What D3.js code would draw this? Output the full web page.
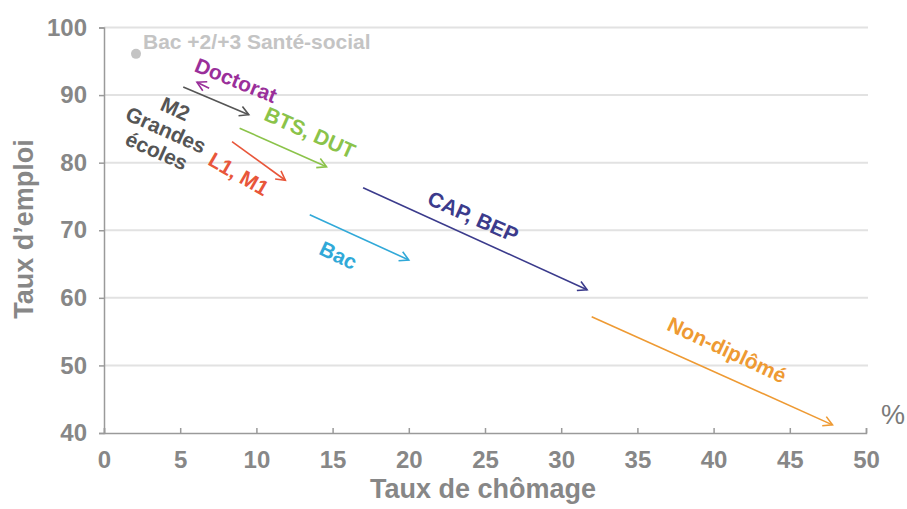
<!DOCTYPE html>
<meta charset="utf-8">
<script src="https://d3js.org/d3.v7.js"></script>
<style>
  body { margin: 0; background: #fff; }
  text { font-family: "Liberation Sans", Arial, sans-serif; font-weight: bold; }
</style>
<body>
<div id="my_dataviz"></div>
<script>
    const width = 907,
        height = 509;

    // diplomas: unemployment rate (x) and employment rate (y), arrow from start to end
    const groups = ['Doctorat', 'M2 Grandes écoles', 'BTS, DUT', 'L1, M1', 'Bac', 'CAP, BEP', 'Non-diplômé'];
    const chomageStart = [6.9, 5.2, 8.9, 8.4, 13.5, 17.0, 32.0];
    const chomageEnd   = [6.1, 9.5, 14.6, 11.9, 20.0, 31.7, 47.8];
    const emploiStart  = [91.0, 91.2, 85.1, 83.1, 72.3, 76.3, 57.2];
    const emploiEnd    = [91.9, 87.1, 79.4, 77.4, 65.6, 61.2, 41.2];
    const colors = ['#9a2f9a', '#555555', '#8bc34a', '#e8563a', '#31a9d8', '#3b3b8c', '#ee9a33'];

    // single point
    const pointLabel = 'Bac +2/+3 Santé-social';
    const pointChomage = 2.1;
    const pointEmploi = 96.1;

    const xTicks = [0, 5, 10, 15, 20, 25, 30, 35, 40, 45, 50];
    const yTicks = [40, 50, 60, 70, 80, 90, 100];

    // label placement relative to arrow middle (pixels) and rotation
    const labelLayout = [
      {dx: 33, dy: -5, rot: 22},
      {dx: -50, dy: 29, rot: 24},
      {dx: 27, dy: -15, rot: 24},
      {dx: -20, dy: 13, rot: 30},
      {dx: -21, dy: 18, rot: 25},
      {dx: -2, dy: -22, rot: 24},
      {dx: 15, dy: -21, rot: 25}
    ];

    const x = d3.scaleLinear().domain([0, 50]).range([104, 866]);
    const y = d3.scaleLinear().domain([40, 100]).range([433, 27.5]);

    const svg = d3.select('#my_dataviz')
      .append('svg')
        .attr('width', width)
        .attr('height', height);

    const axisGrey = '#878787';

    // gridlines
    svg.append('g')
      .selectAll('line')
      .data(yTicks.filter(d => d > 40))
      .join('line')
        .attr('x1', x(0)).attr('x2', x(50) + 2)
        .attr('y1', d => y(d)).attr('y2', d => y(d))
        .attr('stroke', '#e2e2e2')
        .attr('stroke-width', 2);

    // y axis
    const yAxis = svg.append('g')
      .attr('transform', `translate(${x(0)},0)`)
      .call(d3.axisLeft(y).tickValues(yTicks).tickSize(5).tickPadding(12));
    // x axis
    const xAxis = svg.append('g')
      .attr('transform', `translate(0,${y(40)})`)
      .call(d3.axisBottom(x).tickValues(xTicks).tickSize(-5).tickPadding(18));

    [xAxis, yAxis].forEach(function(a){
      a.select('.domain').attr('stroke', '#9a9a9a').attr('stroke-width', 1.5);
      a.selectAll('.tick line').attr('stroke', '#9a9a9a').attr('stroke-width', 1.5);
      a.selectAll('.tick text')
        .attr('fill', axisGrey)
        .style('font-size', '24px')
        .style('font-family', '"Liberation Sans", Arial, sans-serif')
        .style('font-weight', 'bold');
    });
    xAxis.selectAll('.tick text').attr('dy', '0.71em');

    // axis titles
    svg.append('text')
      .attr('x', 483).attr('y', 498)
      .attr('text-anchor', 'middle')
      .attr('fill', axisGrey)
      .style('font-size', '27px')
      .text('Taux de chômage');
    svg.append('text')
      .attr('transform', 'translate(33,229) rotate(-90)')
      .attr('text-anchor', 'middle')
      .attr('fill', axisGrey)
      .style('font-size', '27px')
      .text('Taux d’emploi');
    svg.append('text')
      .attr('x', 893).attr('y', 424)
      .attr('text-anchor', 'middle')
      .attr('fill', '#7a7a7a')
      .style('font-size', '27px')
      .style('font-weight', 'normal')
      .text('%');

    // arrow markers, one per colour
    const defs = svg.append('defs');
    colors.forEach(function(c, i){
      defs.append('marker')
        .attr('id', 'arrow' + i)
        .attr('viewBox', '-10 -6 12 12')
        .attr('refX', 0).attr('refY', 0)
        .attr('markerWidth', 12).attr('markerHeight', 12)
        .attr('markerUnits', 'userSpaceOnUse')
        .attr('orient', 'auto')
        .append('path')
          .attr('d', 'M-9,-5 L0,0 L-9,5')
          .attr('fill', 'none')
          .attr('stroke', c)
          .attr('stroke-width', 1.6);
    });

    const data = groups.map(function(g, i){
      return {name: g, x0: chomageStart[i], x1: chomageEnd[i], y0: emploiStart[i], y1: emploiEnd[i], color: colors[i], lay: labelLayout[i], i: i};
    });

    svg.append('g')
      .selectAll('line')
      .data(data)
      .join('line')
        .attr('x1', d => x(d.x0)).attr('y1', d => y(d.y0))
        .attr('x2', d => x(d.x1)).attr('y2', d => y(d.y1))
        .attr('stroke', d => d.color)
        .attr('stroke-width', 1.6)
        .attr('marker-end', d => `url(#arrow${d.i})`);

    // labels
    const labels = svg.append('g')
      .selectAll('g')
      .data(data)
      .join('g')
        .attr('transform', function(d){
          const mx = (x(d.x0) + x(d.x1)) / 2 + d.lay.dx;
          const my = (y(d.y0) + y(d.y1)) / 2 + d.lay.dy;
          return `translate(${mx},${my}) rotate(${d.lay.rot})`;
        });
    labels.each(function(d){
      const g = d3.select(this);
      const lines = d.name === 'M2 Grandes écoles' ? ['M2', 'Grandes', 'écoles'] : [d.name];
      lines.forEach(function(l, k){
        g.append('text')
          .attr('y', (k - (lines.length - 1) / 2) * 23)
          .attr('dy', '0.35em')
          .attr('text-anchor', 'middle')
          .attr('fill', d.color)
          .style('font-size', '21px')
          .text(l);
      });
    });

    // single point
    svg.append('circle')
      .attr('cx', x(pointChomage)).attr('cy', y(pointEmploi))
      .attr('r', 5)
      .attr('fill', '#c4c4c4');
    svg.append('text')
      .attr('x', x(pointChomage) + 7).attr('y', y(pointEmploi) - 5)
      .attr('fill', '#c4c4c4')
      .style('font-size', '21px')
      .text(pointLabel);
</script>
</body>
